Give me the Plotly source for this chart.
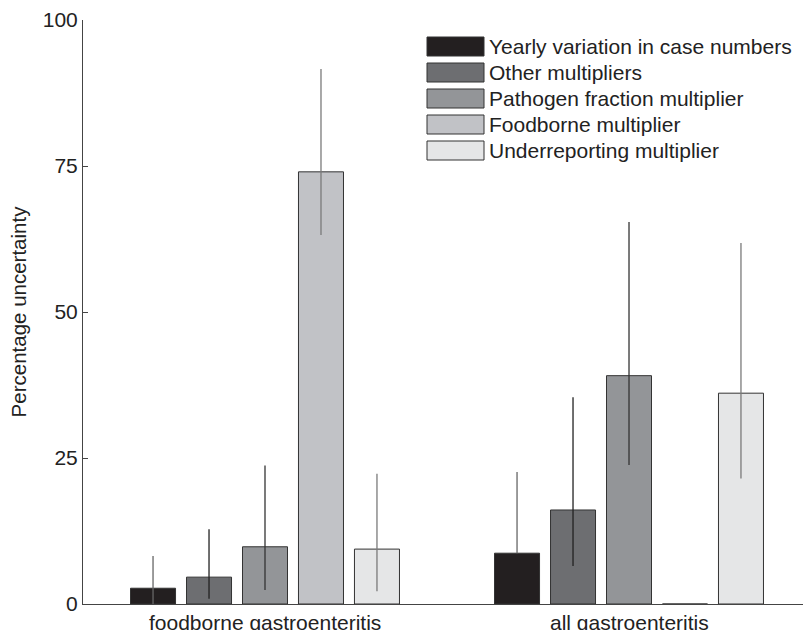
import plotly.graph_objects as go

categories = ["foodborne gastroenteritis", "all gastroenteritis"]
series_names = [
    "Yearly variation in case numbers",
    "Other multipliers",
    "Pathogen fraction multiplier",
    "Foodborne multiplier",
    "Underreporting multiplier",
]
values = [
    [2.7, 8.7],
    [4.6, 16.1],
    [9.8, 39.1],
    [74.0, 0.0],
    [9.4, 36.1],
]
upper = [
    [8.2, 22.6],
    [12.8, 35.4],
    [23.7, 65.4],
    [91.6, None],
    [22.3, 61.8],
]
lower = [
    [0.0, 8.7],
    [0.9, 6.5],
    [2.4, 23.8],
    [63.2, None],
    [2.2, 21.5],
]
y_ticks = [0, 25, 50, 75, 100]

fill_colors = ["#231f20", "#6d6e71", "#939598", "#c1c2c6", "#e5e6e7"]
err_colors = ["#666666", "#222222", "#333333", "#7a7a7a", "#7a7a7a"]

FONT = "Liberation Sans, Arial, sans-serif"

fig = go.Figure()
for i, name in enumerate(series_names):
    plus = [(u - v) if u is not None else None for u, v in zip(upper[i], values[i])]
    minus = [(v - l) if l is not None else None for l, v in zip(lower[i], values[i])]
    fig.add_trace(go.Bar(
        x=categories, y=values[i], name=name,
        marker=dict(color=fill_colors[i], line=dict(color="#333333", width=1)),
        error_y=dict(type="data", symmetric=False, array=plus, arrayminus=minus,
                     color=err_colors[i], thickness=1.3, width=0),
        showlegend=False,
    ))

# manual legend (large swatches as in the reference)
row0 = 46.5
step = 26
for i, name in enumerate(series_names):
    yc = row0 + i * step
    fig.add_shape(type="rect", xref="paper", yref="paper",
                  x0=(427 - 83) / 720, x1=(484 - 83) / 720,
                  y0=1 - (yc - 9.5 - 20) / 584, y1=1 - (yc + 9.5 - 20) / 584,
                  fillcolor=fill_colors[i], line=dict(color="#333333", width=1))
    fig.add_annotation(xref="paper", yref="paper", x=(487 - 83) / 720,
                       y=1 - (yc - 20) / 584, text=name, showarrow=False,
                       xanchor="left", yanchor="middle",
                       font=dict(family=FONT, size=21, color="#222222"))

# category labels under the groups
for c in categories:
    fig.add_annotation(xref="x", yref="paper", x=c, y=0, text=c, showarrow=False,
                       xanchor="center", yanchor="top", yshift=-5,
                       font=dict(family=FONT, size=21, color="#222222"))

fig.update_layout(
    width=803, height=630,
    margin=dict(l=83, r=0, t=20, b=26, autoexpand=False),
    paper_bgcolor="white", plot_bgcolor="white",
    barmode="group", bargap=0.231, bargroupgap=0.196,
    font=dict(family=FONT, size=21, color="#222222"),
    xaxis=dict(range=[-0.5, 1.478], showline=True, linecolor="#444444", linewidth=1,
               ticks="", showticklabels=False, showgrid=False, zeroline=False,
               automargin=False),
    yaxis=dict(range=[0, 100], tickvals=y_ticks, showline=True, linecolor="#444444",
               linewidth=1, ticks="inside", ticklen=5, tickcolor="#444444",
               showgrid=False, zeroline=False, tickfont=dict(size=21), automargin=False,
               title=dict(text="Percentage uncertainty", font=dict(size=20.5), standoff=10)),
)

fig.write_html("out.html",
               config={"displayModeBar": False},
               post_script="document.body.style.margin='0';document.body.style.overflow='hidden';")
